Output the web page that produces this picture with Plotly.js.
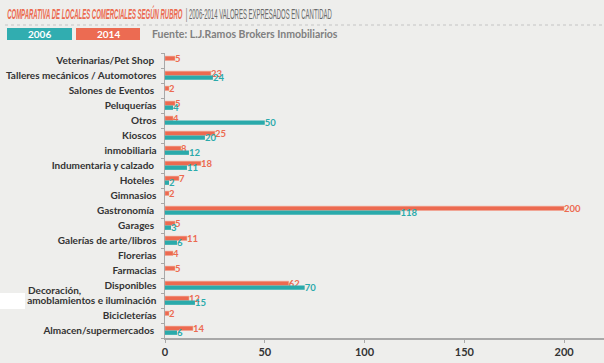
<!DOCTYPE html>
<html>
<head>
<meta charset="utf-8">
<script src="https://cdn.plot.ly/plotly-3.0.1.min.js"></script>
<style>html,body{margin:0;padding:0;background:#eeeeec;}#chart{width:604px;height:363px;}</style>
</head>
<body>
<div id="chart"></div>
<script>
const categories = [
  "Veterinarias/Pet Shop",
  "Talleres mecánicos / Automotores",
  "Salones de Eventos",
  "Peluquerías",
  "Otros",
  "Kioscos",
  "inmobiliaria",
  "Indumentaria y calzado",
  "Hoteles",
  "Gimnasios",
  "Gastronomía",
  "Garages",
  "Galerías de arte/libros",
  "Florerias",
  "Farmacias",
  "Disponibles",
  "Decoración, amoblamientos e iluminación",
  "Bicicleterías",
  "Almacen/supermercados"
];
const tickLabels = [
  "Veterinarias/Pet Shop ",
  "Talleres mecánicos / Automotores",
  "Salones de Eventos ",
  "Peluquerías",
  "Otros",
  "Kioscos",
  "inmobiliaria",
  "Indumentaria y calzado ",
  "Hoteles ",
  "Gimnasios",
  "Gastronomía ",
  "Garages ",
  "Galerías de arte/libros",
  "Florerias",
  "Farmacias",
  "Disponibles",
  "amoblamientos e iluminación",
  "Bicicleterías",
  "Almacen/supermercados "
];
const values2014 = [5, 23, 2, 5, 4, 25, 8, 18, 7, 2, 200, 5, 11, 4, 5, 62, 12, 2, 14];
const values2006 = [null, 24, null, 4, 50, 20, 12, 11, 2, null, 118, 3, 6, null, null, 70, 15, null, 6];
const xTicks = [0, 50, 100, 150, 200];
const seriesNames = ["2014", "2006"];
const titleMain = "COMPARATIVA DE LOCALES COMERCIALES SEGÚN RUBRO";
const titleSub = "| 2006-2014 VALORES EXPRESADOS EN CANTIDAD";
const sourceText = "Fuente: L.J.Ramos Brokers Inmobiliarios";
const extraLabel = "Decoración,";

const ORANGE = "#ec6a50", TEAL = "#2aaaab";
const W = 604, H = 363, ML = 165, MR = 0, MT = 53, MB = 25;
const PW = W - ML - MR, PH = H - MT - MB;
const px = v => (v - ML) / PW;
const py = v => (H - MB - v) / PH;

const FAM = "Lato, 'Open Sans', sans-serif";

const traces = [
  {type: "bar", orientation: "h", name: seriesNames[0], y: categories, x: values2014,
   marker: {color: ORANGE, line: {color: "#f3a08f", width: 0.5}},
   text: values2014.map(v => v == null ? "" : String(v)), textposition: "outside",
   textfont: {family: FAM, size: 9.5, weight: 700, color: ORANGE},
   constraintext: "none", cliponaxis: false, hoverinfo: "skip"},
  {type: "bar", orientation: "h", name: seriesNames[1], y: categories, x: values2006,
   marker: {color: TEAL},
   text: values2006.map(v => v == null ? "" : String(v)), textposition: "outside",
   textfont: {family: FAM, size: 9.5, weight: 700, color: TEAL},
   constraintext: "none", cliponaxis: false, hoverinfo: "skip"}
];

const layout = {
  width: W, height: H,
  margin: {l: ML, r: MR, t: MT, b: MB, pad: 0},
  paper_bgcolor: "#eeeeec", plot_bgcolor: "rgba(0,0,0,0)",
  showlegend: false,
  barmode: "group", bargap: 0.42, bargroupgap: 0,
  xaxis: {range: [0, 220], tickvals: xTicks, showgrid: false, zeroline: false,
    showline: true, linecolor: "#a8a8a8", linewidth: 1.5,
    ticks: "outside", ticklen: 3, tickcolor: "#a8a8a8",
    tickfont: {family: FAM, size: 11, weight: 700, color: "#333"}},
  yaxis: {type: "category", categoryarray: categories, autorange: "reversed",
    tickvals: categories, ticktext: tickLabels,
    showgrid: false, zeroline: false, showline: true, linecolor: "#a8a8a8", linewidth: 1.5,
    ticks: "outside", ticklen: 3, tickcolor: "#a8a8a8", tickson: "boundaries",
    ticklabelstandoff: 5,
    tickfont: {family: FAM, size: 10, weight: 700, color: "#333"}},
  shapes: [
    {type: "line", xref: "paper", yref: "paper", x0: px(5), x1: px(604), y0: py(25), y1: py(25),
     line: {color: "#c4c4c4", width: 1, dash: "dot"}},
    {type: "rect", xref: "paper", yref: "paper", x0: px(7), x1: px(72), y0: py(40), y1: py(28),
     fillcolor: "#31adb0", line: {width: 0}},
    {type: "rect", xref: "paper", yref: "paper", x0: px(76), x1: px(140), y0: py(40), y1: py(28),
     fillcolor: "#ec6b52", line: {width: 0}},
    {type: "rect", xref: "paper", yref: "paper", x0: px(0), x1: px(25), y0: py(309), y1: py(293),
     fillcolor: "#ffffff", line: {width: 0}}
  ],
  annotations: [
    {xref: "paper", yref: "paper", x: px(5), y: py(13), xanchor: "left", yanchor: "middle", showarrow: false,
     text: "<b><i>" + titleMain + "</i></b>  <span style='color:#6a6a6a'>" + titleSub + "</span>",
     font: {family: "'Liberation Sans', Arial, sans-serif", size: 14, color: ORANGE}},
    {xref: "paper", yref: "paper", x: px(39.5), y: py(34), xanchor: "center", yanchor: "middle", showarrow: false,
     text: seriesNames[1], font: {family: FAM, size: 10, weight: 700, color: "#ffffff"}},
    {xref: "paper", yref: "paper", x: px(108), y: py(34), xanchor: "center", yanchor: "middle", showarrow: false,
     text: seriesNames[0], font: {family: FAM, size: 10, weight: 700, color: "#ffffff"}},
    {xref: "paper", yref: "paper", x: px(150), y: py(34), xanchor: "left", yanchor: "middle", showarrow: false,
     text: sourceText, font: {family: FAM, size: 10.5, weight: 700, color: "#808080"}},
    {xref: "paper", yref: "paper", x: px(26), y: py(290), xanchor: "left", yanchor: "middle", showarrow: false,
     text: extraLabel, font: {family: FAM, size: 10, weight: 700, color: "#333"}}
  ]
};

Plotly.newPlot("chart", traces, layout, {displayModeBar: false, staticPlot: true}).then(function () {
  // condense the header title horizontally (the original uses a condensed display face)
  const t = document.querySelector('.annotation[data-index="0"] text');
  if (t) {
    const bb = t.getBBox();
    const s = 325 / bb.width;
    const prev = t.getAttribute("transform") || "";
    t.setAttribute("transform", prev + " translate(" + (bb.x * (1 - s)) + ",0) scale(" + s + ",1)");
  }
});
</script>
</body>
</html>
